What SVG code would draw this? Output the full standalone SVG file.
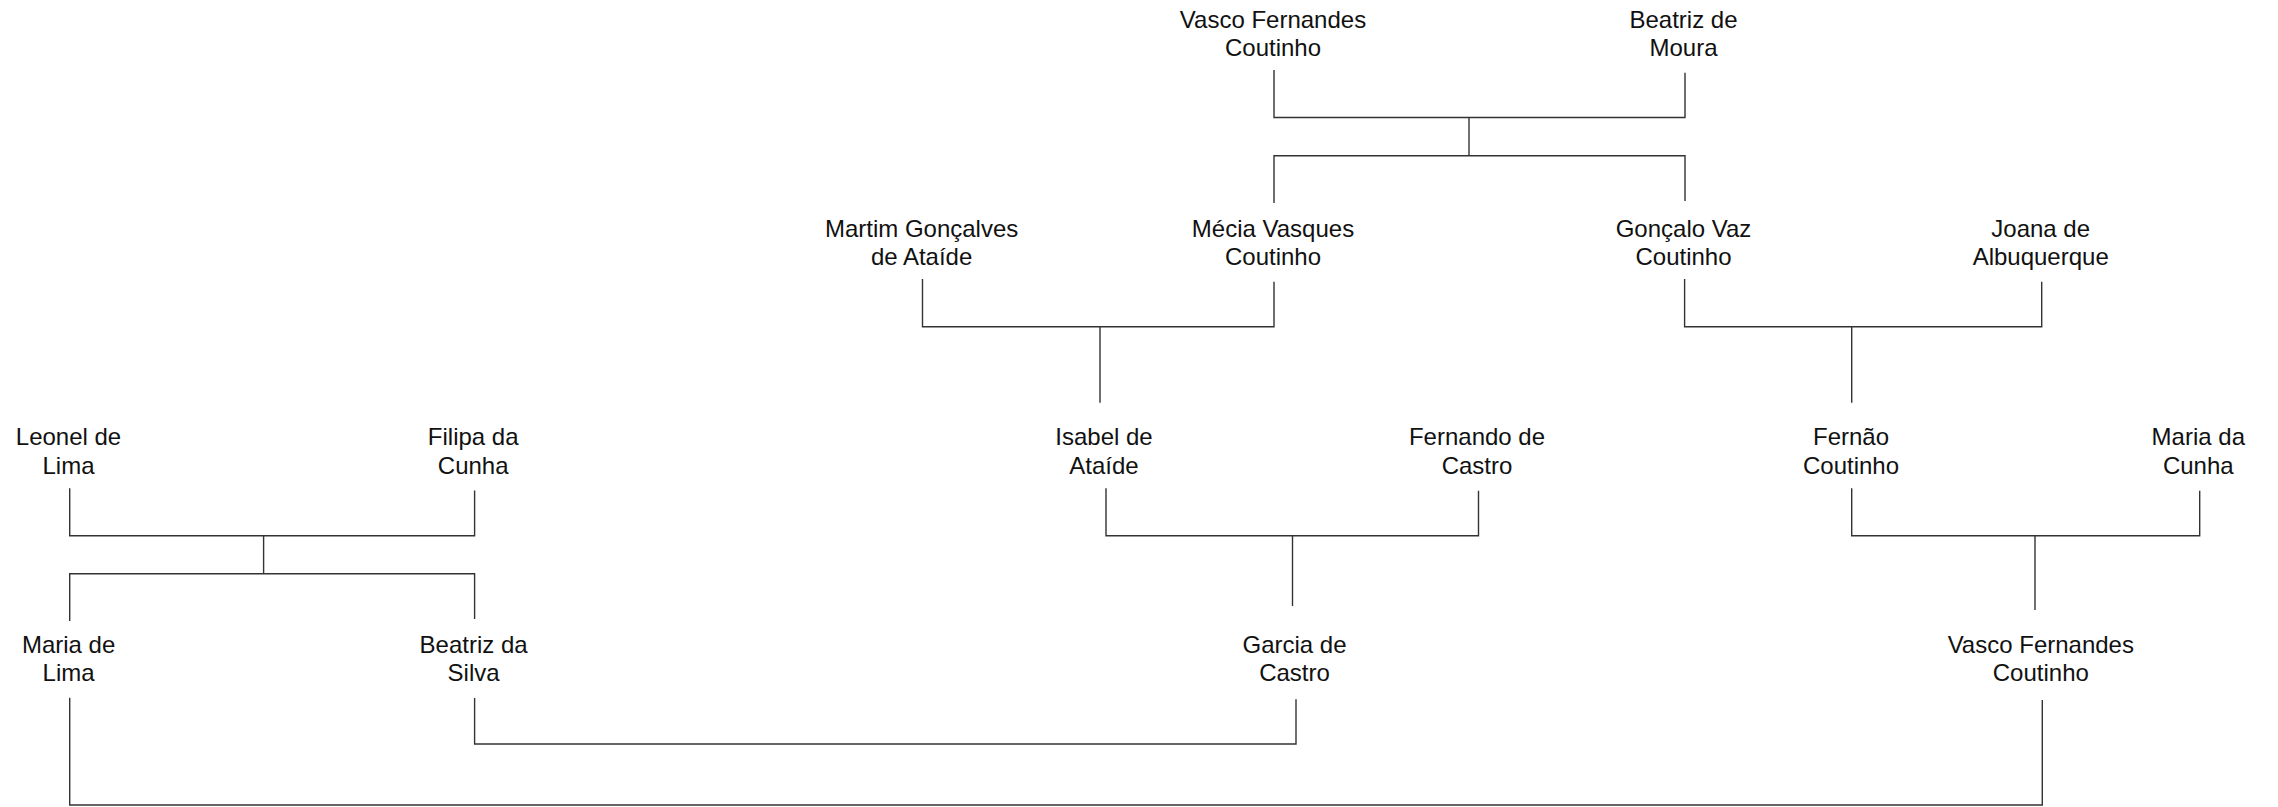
<svg xmlns="http://www.w3.org/2000/svg" width="2278" height="807" viewBox="0 0 2278 807">
<style>
text{font-family:"Liberation Sans",Arial,sans-serif;font-size:24px;fill:#111;text-anchor:middle}
.c path{fill:none;stroke:#333;stroke-width:1.4}
</style>
<rect width="2278" height="807" fill="#fff"/>
<g class="c" id="connectors">
<path d="M1274 70V117.5H1685V72.7"/>
<path d="M1469 117.5V155.7"/>
<path d="M1274 203V155.7H1685V201"/>
<path d="M922.5 279V326.7H1274V281.7"/>
<path d="M1100 326.7V402.7"/>
<path d="M1684.6 279V326.7H2041.7V281.7"/>
<path d="M1851.7 326.7V402.7"/>
<path d="M69.7 488.3V535.7H474.6V490.5"/>
<path d="M263.6 535.7V573.7"/>
<path d="M69.7 621V573.7H474.6V619"/>
<path d="M1106 488.3V535.7H1478.5V490.7"/>
<path d="M1292.5 535.7V606"/>
<path d="M1851.7 488.3V535.7H2199.7V490.7"/>
<path d="M2035 535.7V610"/>
<path d="M474.6 698V744H1296V699.3"/>
<path d="M69.7 697.7V805H2042.3V700"/>
</g>
<g id="vasco-fernandes-coutinho-1"><text x="1273" y="27.5">Vasco Fernandes<tspan x="1273" dy="28.5">Coutinho</tspan></text></g>
<g id="beatriz-de-moura"><text x="1683.5" y="27.5">Beatriz de<tspan x="1683.5" dy="28.5">Moura</tspan></text></g>
<g id="martim-goncalves-de-ataide"><text x="921.6" y="236.5">Martim Gonçalves<tspan x="921.6" dy="28.5">de Ataíde</tspan></text></g>
<g id="mecia-vasques-coutinho"><text x="1273" y="236.5">Mécia Vasques<tspan x="1273" dy="28.5">Coutinho</tspan></text></g>
<g id="goncalo-vaz-coutinho"><text x="1683.5" y="236.5">Gonçalo Vaz<tspan x="1683.5" dy="28.5">Coutinho</tspan></text></g>
<g id="joana-de-albuquerque"><text x="2040.7" y="236.5">Joana de<tspan x="2040.7" dy="28.5">Albuquerque</tspan></text></g>
<g id="leonel-de-lima"><text x="68.5" y="445">Leonel de<tspan x="68.5" dy="28.5">Lima</tspan></text></g>
<g id="filipa-da-cunha"><text x="473.2" y="445">Filipa da<tspan x="473.2" dy="28.5">Cunha</tspan></text></g>
<g id="isabel-de-ataide"><text x="1104" y="445">Isabel de<tspan x="1104" dy="28.5">Ataíde</tspan></text></g>
<g id="fernando-de-castro"><text x="1477" y="445">Fernando de<tspan x="1477" dy="28.5">Castro</tspan></text></g>
<g id="fernao-coutinho"><text x="1851" y="445">Fernão<tspan x="1851" dy="28.5">Coutinho</tspan></text></g>
<g id="maria-da-cunha"><text x="2198.3" y="445">Maria da<tspan x="2198.3" dy="28.5">Cunha</tspan></text></g>
<g id="maria-de-lima"><text x="68.6" y="652.5">Maria de<tspan x="68.6" dy="28.5">Lima</tspan></text></g>
<g id="beatriz-da-silva"><text x="473.6" y="652.5">Beatriz da<tspan x="473.6" dy="28.5">Silva</tspan></text></g>
<g id="garcia-de-castro"><text x="1294.5" y="652.5">Garcia de<tspan x="1294.5" dy="28.5">Castro</tspan></text></g>
<g id="vasco-fernandes-coutinho-2"><text x="2040.8" y="652.5">Vasco Fernandes<tspan x="2040.8" dy="28.5">Coutinho</tspan></text></g>
</svg>
